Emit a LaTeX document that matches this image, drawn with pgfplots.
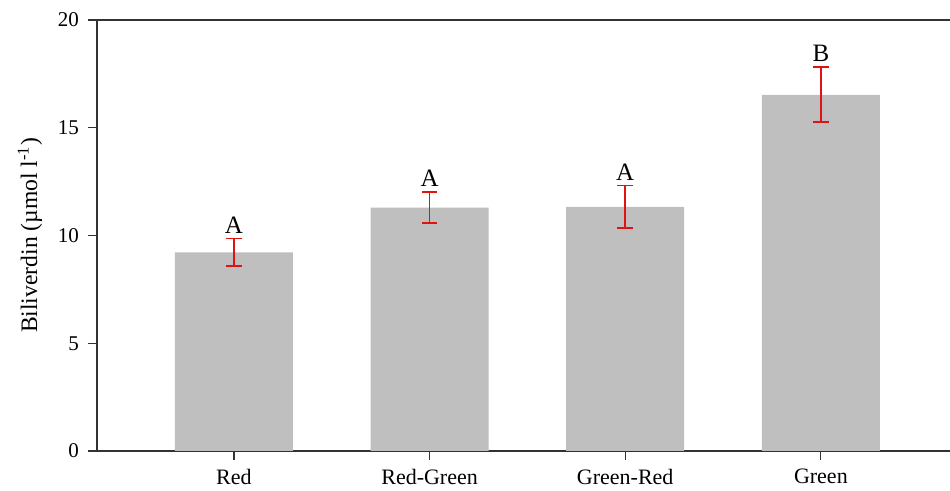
\documentclass[border=0pt]{standalone}
\usepackage{pgfplots}
\pgfplotsset{compat=1.18}
\usepackage{fontspec}
\setmainfont{Liberation Serif}
\definecolor{barg}{RGB}{191,191,191}
\definecolor{errred}{RGB}{222,20,20}
\definecolor{axg}{RGB}{50,50,50}
\begin{document}
\begin{tikzpicture}
\begin{axis}[
  name=ax,
  scale only axis,
  width=426.5pt, height=215.5pt,
  xmin=-0.70, xmax=3.66,
  ymin=0, ymax=20,
  axis x line=box, axis y line=left,
  axis line style={axg, line width=0.6pt, -},
  ytick={0,5,10,15,20},
  xtick={0,1,2,3},
  xticklabels={Red,Red-Green,Green-Red,Green},
  tick align=outside,
  tick pos=left,
  major tick length=4.5pt,
  tick style={axg, line width=0.6pt},
  /pgf/number format/assume math mode=true,
  yticklabel style={font=\fontsize{10.5}{12}\selectfont, xshift=-1pt},
  xticklabel style={font=\fontsize{11}{13}\selectfont, yshift=-1pt},
  ylabel={Biliverdin (µmol l\textsuperscript{-1})},
  every axis y label/.style={at={(axis description cs:-0.0786,0.5)}, rotate=90, anchor=center, font=\fontsize{11.8}{14}\selectfont},
  clip=false,
]
\addplot[ybar, bar width=0.603, fill=barg, draw=none,
  error bars/.cd, y dir=both, y explicit,
  error bar style={errred, line width=0.9pt},
  error mark options={rotate=90, errred, mark size=3.9pt, line width=0.9pt}]
  table[x=x, y=y, y error=e] {
x y e
0 9.22 0.64
1 11.29 0.71
2 11.33 0.99
3 16.53 1.28
};
\node[anchor=south, inner sep=0pt, yshift=2.5pt, font=\fontsize{12.5}{14}\selectfont] at (axis cs:0,9.86) {A};
\node[anchor=south, inner sep=0pt, yshift=2.5pt, font=\fontsize{12.5}{14}\selectfont] at (axis cs:1,12.00) {A};
\node[anchor=south, inner sep=0pt, yshift=2.5pt, font=\fontsize{12.5}{14}\selectfont] at (axis cs:2,12.32) {A};
\node[anchor=south, inner sep=0pt, yshift=2.5pt, font=\fontsize{12.5}{14}\selectfont] at (axis cs:3,17.81) {B};
\end{axis}
\pgfresetboundingbox
\path[use as bounding box] ([xshift=-48.5pt, yshift=-20pt]ax.south west) rectangle ([yshift=10pt]ax.north east);
\end{tikzpicture}
\end{document}
